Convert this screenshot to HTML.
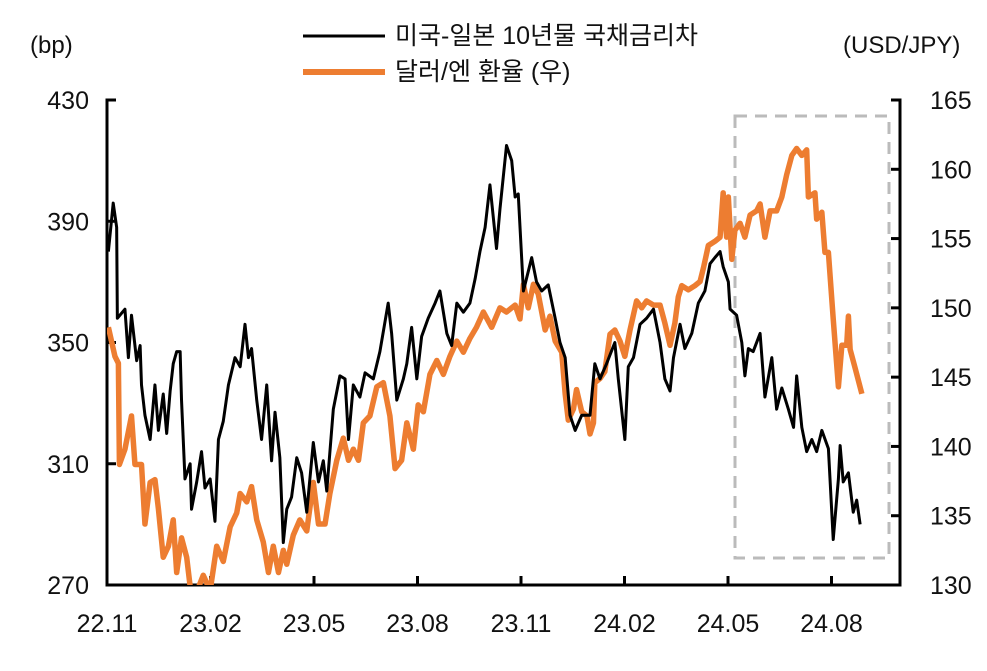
<!DOCTYPE html>
<html><head><meta charset="utf-8"><style>
body{margin:0;background:#fff;}
svg text{font-family:"Liberation Sans","Noto Sans CJK KR",sans-serif;fill:#111;}
</style></head><body>
<svg id="chart" width="987" height="666" viewBox="0 0 987 666">
<defs><clipPath id="plotclip"><rect x="107" y="95" width="793" height="490"/></clipPath></defs>
<g id="legend">
 <line x1="303" y1="36" x2="385" y2="36" stroke="#000" stroke-width="3"/>
 <text x="395" y="44" font-size="25">미국-일본 10년물 국채금리차</text>
 <line x1="303" y1="72" x2="385" y2="72" stroke="#ED7D31" stroke-width="6"/>
 <text x="395" y="80" font-size="25">달러/엔 환율 (우)</text>
</g>
<text x="30" y="53" font-size="24">(bp)</text>
<text x="843" y="53" font-size="24">(USD/JPY)</text>
<rect x="735" y="116" width="154" height="442" fill="none" stroke="#bbb" stroke-width="3" stroke-dasharray="12,8"/>
<g id="axes"></g>
<g id="series" clip-path="url(#plotclip)"></g>
</svg>
<script>
const leftTicks=[270,310,350,390,430];
const rightTicks=[130,135,140,145,150,155,160,165];
const xTickLabels=["22.11","23.02","23.05","23.08","23.11","24.02","24.05","24.08"];
const xTickMonths=[0,3,6,9,12,15,18,21];
const spreadT=[0.04,0.18,0.28,0.30,0.52,0.62,0.71,0.86,0.96,1.00,1.10,1.25,1.39,1.49,1.63,1.73,1.83,1.92,2.02,2.12,2.16,2.26,2.41,2.45,2.60,2.74,2.84,2.99,3.13,3.23,3.37,3.52,3.71,3.86,4.00,4.10,4.19,4.34,4.48,4.63,4.77,4.87,5.01,5.11,5.21,5.35,5.50,5.64,5.79,5.98,6.13,6.27,6.37,6.56,6.75,6.90,7.00,7.14,7.33,7.48,7.72,7.91,8.15,8.25,8.40,8.59,8.69,8.83,8.98,9.12,9.31,9.51,9.65,9.85,9.99,10.14,10.33,10.52,10.67,10.81,10.96,11.10,11.29,11.39,11.58,11.73,11.83,11.92,12.07,12.31,12.45,12.60,12.79,12.99,13.13,13.28,13.42,13.57,13.76,14.00,14.14,14.29,14.48,14.72,14.82,15.01,15.11,15.26,15.45,15.64,15.84,16.03,16.17,16.32,16.42,16.61,16.75,16.95,17.14,17.33,17.48,17.62,17.77,17.86,18.01,18.06,18.25,18.40,18.49,18.59,18.73,18.93,19.07,19.27,19.41,19.56,19.75,19.90,19.99,20.14,20.28,20.43,20.57,20.72,20.91,21.05,21.20,21.25,21.34,21.49,21.63,21.73,21.83];
const spreadV=[380,396,388,358,361,345,359,344,349,336,326,318,336,321,333,320,334,343,347,347,331,305,310,295,304,314,302,305,291,318,324,336,345,342,356,345,348,331,318,336,311,327,312,284,295,299,312,307,294,317,304,311,301,328,339,338,318,336,332,340,338,347,363,353,331,338,343,355,338,352,358,363,367,353,349,363,360,363,371,380,388,402,381,394,415,410,398,399,367,378,370,367,369,358,350,345,326,321,326,326,343,338,343,350,338,318,342,345,356,358,361,350,338,334,345,356,348,353,363,367,376,378,380,375,370,361,359,350,339,348,347,353,332,345,328,335,328,322,339,322,314,318,314,321,315,285,305,316,304,307,294,298,290];
const fxT=[0.04,0.23,0.33,0.36,0.52,0.71,0.81,1.00,1.10,1.25,1.39,1.49,1.63,1.78,1.92,2.02,2.16,2.31,2.41,2.60,2.79,2.99,3.18,3.37,3.57,3.76,3.86,4.05,4.19,4.34,4.53,4.68,4.82,4.97,5.11,5.21,5.40,5.59,5.79,5.98,6.13,6.32,6.46,6.66,6.85,7.00,7.14,7.29,7.43,7.62,7.82,8.01,8.20,8.35,8.54,8.69,8.88,9.02,9.17,9.36,9.56,9.75,9.94,10.14,10.33,10.52,10.71,10.91,11.15,11.39,11.58,11.83,11.97,12.07,12.21,12.36,12.50,12.70,12.84,12.99,13.18,13.28,13.37,13.52,13.61,13.76,13.91,14.00,14.10,14.14,14.29,14.43,14.58,14.72,14.87,15.01,15.16,15.35,15.50,15.64,15.84,16.03,16.17,16.32,16.46,16.56,16.66,16.85,17.04,17.19,17.29,17.43,17.62,17.77,17.86,17.96,18.01,18.11,18.20,18.35,18.49,18.64,18.83,18.93,19.07,19.22,19.41,19.56,19.70,19.85,19.99,20.14,20.28,20.33,20.52,20.57,20.72,20.81,20.91,21.05,21.20,21.30,21.44,21.49,21.54,21.68,21.88];
const fxV=[148.6,146.5,146,138.7,139.8,142.2,138.7,138.7,134.4,137.4,137.6,135.5,132,132.8,134.7,130.9,133.4,132,129.9,129.5,130.7,129.6,132.8,131.7,134.2,135.2,136.6,136,137.1,134.7,133.1,130.9,132.8,130.9,132.5,131.5,133.6,134.7,133.9,137.4,134.4,134.4,136.6,139,140.6,139,139.8,139,141.7,142.2,144.3,144.6,142.2,138.4,139,141.7,139.8,143,142.5,145.2,146.2,145.2,146.5,147.6,146.8,147.8,148.6,149.7,148.6,150,149.7,150.2,149.2,151.7,150,151.7,151,148.4,149.4,147.6,146.8,143.8,141.9,142.7,144.1,142.5,142.2,140.9,141.7,144.6,144.9,145.4,148.1,148.4,147.6,146.5,148.4,150.5,150,150.5,150.2,150.2,148.9,147.3,148.9,150.8,151.6,151.3,151.6,151.9,152.9,154.5,154.8,155.1,158.3,155.1,158,153.5,155.6,156.1,155.1,156.7,157,157.5,155.1,157,157,158,159.6,161,161.5,161,161.4,158,158.3,156.4,156.9,154,154,149.2,144.3,147.3,147.3,149.4,147,145.7,143.8];

const X0=107,X1=900,Y0=585,Y1=100,PXM=34.5;
const xs=m=>X0+m*PXM;
const yL=v=>Y0-(v-270)/(430-270)*(Y0-Y1);
const yR=v=>Y0-(v-130)/(165-130)*(Y0-Y1);
const NS="http://www.w3.org/2000/svg";
const axes=document.getElementById('axes'), series=document.getElementById('series');
function mk(tag,attrs,parent){const e=document.createElementNS(NS,tag);for(const k in attrs)e.setAttribute(k,attrs[k]);parent.appendChild(e);return e;}
let e;
e=mk('path',{d:`M${X0+8},${Y1}H${X0}V${Y0}H${X1}V${Y1}H${X1-8}`,fill:'none',stroke:'#000','stroke-width':3},axes);


leftTicks.forEach(v=>{
 const y=yL(v);
 e=mk('line',{x1:X0,x2:X0+9,y1:y,y2:y,stroke:'#000','stroke-width':3},axes);
 
 
 e=mk('text',{x:X0-18,y:y+9,'font-size':25,'text-anchor':'end'},axes);e.textContent=v;
 
 
});
rightTicks.forEach(v=>{
 const y=yR(v);
 e=mk('line',{x1:X1-9,x2:X1,y1:y,y2:y,stroke:'#000','stroke-width':3},axes);
 
 
 e=mk('text',{x:X1+30,y:y+9,'font-size':25},axes);e.textContent=v;
 
 
});
xTickMonths.forEach((m,i)=>{
 const x=xs(m);
 e=mk('line',{x1:x,x2:x,y1:Y0,y2:Y0-9,stroke:'#000','stroke-width':3},axes);
 
 
 e=mk('text',{x:x,y:Y0+47,'font-size':25,'text-anchor':'middle'},axes);e.textContent=xTickLabels[i];
 
 
});
e=mk('polyline',{points:fxT.map((t,i)=>xs(t)+','+yR(fxV[i])).join(' '),fill:'none',stroke:'#ED7D31','stroke-width':5.5,'stroke-linejoin':'round'},series);


e=mk('polyline',{points:spreadT.map((t,i)=>xs(t)+','+yL(spreadV[i])).join(' '),fill:'none',stroke:'#000','stroke-width':3,'stroke-linejoin':'round'},series);


</script>
</body></html>
